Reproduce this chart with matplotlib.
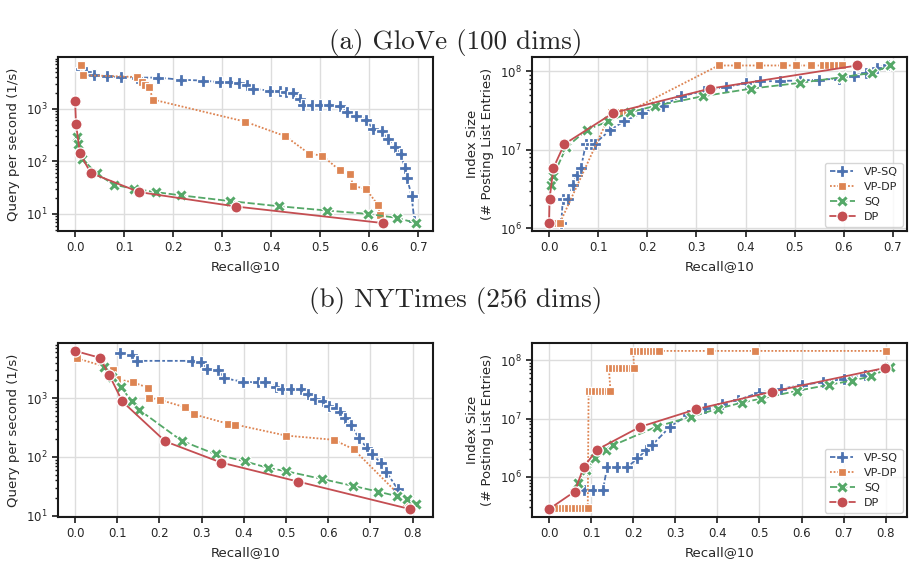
import matplotlib
matplotlib.use("Agg")
import matplotlib.pyplot as plt
import seaborn as sns

# ---- GloVe: throughput ----
glove_qps_vpsq_recall = [0.012, 0.022, 0.038, 0.065, 0.094, 0.126, 0.17, 0.216, 0.26, 0.295, 0.315,
                         0.335, 0.35, 0.363, 0.397, 0.418, 0.43, 0.445, 0.458, 0.465, 0.483, 0.5,
                         0.517, 0.54, 0.554, 0.573, 0.593, 0.608, 0.626, 0.638, 0.653, 0.664,
                         0.673, 0.677, 0.686, 0.692]
glove_qps_vpsq = [5600, 5000, 4300, 4100, 4000, 3900, 3900, 3550, 3430, 3200, 3150,
                  3100, 2800, 2400, 2200, 2150, 2100, 2000, 1560, 1200, 1200, 1200,
                  1200, 1130, 860, 740, 620, 410, 380, 260, 187, 135,
                  74, 48, 22, 7.2]
glove_qps_vpdp_recall = [0.012, 0.016, 0.126, 0.137, 0.143, 0.151, 0.159, 0.346, 0.429, 0.477,
                         0.504, 0.54, 0.56, 0.567, 0.593, 0.617, 0.622]
glove_qps_vpdp = [6800, 4350, 4000, 3200, 2800, 2550, 1490, 570, 300, 140,
                  128, 67, 58, 34, 30, 15, 9.5]
glove_qps_sq_recall = [0.004, 0.006, 0.015, 0.044, 0.079, 0.12, 0.165, 0.215, 0.315, 0.416,
                       0.514, 0.598, 0.657, 0.695]
glove_qps_sq = [290, 210, 110, 59, 36, 30, 26, 22.6, 17.6, 14, 11.6, 10, 8.4, 6.7]
glove_qps_dp_recall = [0.0, 0.002, 0.01, 0.032, 0.131, 0.329, 0.628]
glove_qps_dp = [1430, 510, 141, 60, 26, 13.8, 6.7]

# ---- GloVe: index size ----
glove_idx_vpsq_recall = [0.025, 0.028, 0.039, 0.049, 0.056, 0.065, 0.075, 0.085, 0.093, 0.124,
                         0.152, 0.19, 0.231, 0.269, 0.316, 0.36, 0.4, 0.43, 0.47, 0.51, 0.55,
                         0.59, 0.62, 0.645, 0.668, 0.69]
glove_idx_vpsq = [1.17e6, 2.4e6, 2.4e6, 3.6e6, 4.8e6, 5.9e6, 1.2e7, 1.2e7, 1.2e7, 1.77e7,
                  2.3e7, 2.95e7, 3.65e7, 4.8e7, 5.6e7, 6.3e7, 7.0e7, 7.4e7, 7.5e7, 7.6e7, 7.8e7,
                  8.0e7, 8.8e7, 9.5e7, 1.1e8, 1.2e8]
glove_idx_vpdp_recall = [0.016, 0.022, 0.126, 0.137, 0.143, 0.151, 0.159, 0.345, 0.383, 0.428,
                         0.477, 0.503, 0.534, 0.558, 0.568, 0.578, 0.588, 0.597]
glove_idx_vpdp = [1.17e6, 1.17e6, 3.0e7, 3.0e7, 3.0e7, 3.0e7, 3.0e7, 1.18e8, 1.18e8, 1.18e8,
                  1.18e8, 1.18e8, 1.18e8, 1.18e8, 1.18e8, 1.18e8, 1.18e8, 1.18e8]
glove_idx_sq_recall = [0.003, 0.008, 0.035, 0.077, 0.121, 0.165, 0.215, 0.313, 0.412, 0.511,
                       0.597, 0.658, 0.694]
glove_idx_sq = [3.6e6, 4.6e6, 1.07e7, 1.8e7, 2.3e7, 3.0e7, 3.6e7, 4.8e7, 6.0e7, 7.1e7,
                8.4e7, 9.5e7, 1.18e8]
glove_idx_dp_recall = [0.0, 0.001, 0.009, 0.031, 0.131, 0.328, 0.627]
glove_idx_dp = [1.19e6, 2.36e6, 5.9e6, 1.18e7, 2.95e7, 6.0e7, 1.18e8]

# ---- NYTimes: throughput ----
nyt_qps_vpsq_recall = [0.106, 0.136, 0.146, 0.277, 0.299, 0.313, 0.34, 0.354, 0.398, 0.433,
                       0.45, 0.477, 0.491, 0.512, 0.536, 0.552, 0.568, 0.588, 0.603, 0.618,
                       0.627, 0.639, 0.653, 0.673, 0.691, 0.703, 0.724, 0.738, 0.765, 0.79]
nyt_qps_vpsq = [5800, 5400, 4300, 4300, 4080, 3120, 2960, 2170, 1900, 1850,
                1850, 1560, 1450, 1450, 1450, 1190, 975, 890, 745, 670,
                585, 465, 347, 209, 144, 112, 80, 55, 28, 17]
nyt_qps_vpdp_recall = [0.0055, 0.069, 0.091, 0.1, 0.138, 0.174, 0.176, 0.201, 0.26, 0.281,
                       0.363, 0.379, 0.5, 0.613, 0.66, 0.785]
nyt_qps_vpdp = [4730, 3470, 2950, 2100, 1850, 1490, 1010, 935, 700, 530,
                365, 355, 230, 195, 135, 17]
nyt_qps_sq_recall = [0.068, 0.088, 0.108, 0.135, 0.152, 0.253, 0.334, 0.402, 0.457, 0.5,
                     0.585, 0.659, 0.717, 0.762, 0.787, 0.808]
nyt_qps_sq = [3400, 2300, 1560, 875, 630, 187, 110, 84, 65, 57,
              42, 32, 25.7, 21.5, 19.3, 15.5]
nyt_qps_dp_recall = [0.0, 0.059, 0.081, 0.112, 0.214, 0.346, 0.528, 0.794]
nyt_qps_dp = [6350, 4850, 2480, 875, 183, 80, 38, 12.9]

# ---- NYTimes: index size ----
nyt_idx_vpsq_recall = [0.062, 0.082, 0.104, 0.128, 0.138, 0.162, 0.186, 0.21, 0.23, 0.244,
                       0.288, 0.33, 0.37, 0.41, 0.45, 0.5, 0.55, 0.6, 0.65, 0.7, 0.75, 0.8]
nyt_idx_vpsq = [5.9e5, 5.9e5, 5.9e5, 5.9e5, 1.47e6, 1.47e6, 1.47e6, 2.07e6, 2.85e6, 3.47e6,
                7.3e6, 1.15e7, 1.5e7, 1.8e7, 2.1e7, 2.8e7, 3.2e7, 3.8e7, 4.2e7, 4.8e7, 5.6e7, 7.8e7]
nyt_idx_vpdp_recall = [0.014, 0.022, 0.030, 0.038, 0.046, 0.054, 0.062, 0.070, 0.078, 0.086, 0.092,
                       0.094, 0.102, 0.110, 0.118, 0.126, 0.134, 0.140, 0.146,
                       0.142, 0.150, 0.158, 0.166, 0.174, 0.182, 0.190, 0.196, 0.202,
                       0.200, 0.208, 0.216, 0.224, 0.232, 0.240, 0.248, 0.255, 0.262, 0.382, 0.49, 0.8]
nyt_idx_vpdp = [2.9e5] * 11 + [3.0e7] * 8 + [7.4e7] * 9 + [1.45e8] * 12
nyt_idx_sq_recall = [0.068, 0.088, 0.11, 0.136, 0.152, 0.256, 0.337, 0.402, 0.458, 0.504,
                     0.59, 0.665, 0.721, 0.765, 0.81]
nyt_idx_sq = [8e5, 1.3e6, 2.07e6, 2.85e6, 3.47e6, 7.3e6, 1.07e7, 1.48e7, 1.88e7, 2.2e7,
              3.0e7, 3.8e7, 4.5e7, 5.3e7, 7.6e7]
nyt_idx_dp_recall = [0.0, 0.061, 0.082, 0.113, 0.216, 0.35, 0.53, 0.798]
nyt_idx_dp = [2.8e5, 5.6e5, 1.45e6, 2.9e6, 7.2e6, 1.45e7, 2.9e7, 7.4e7]

sns.set_theme(style="ticks", palette="deep")
plt.rcParams["font.family"] = ["DejaVu Sans"]
plt.rcParams["axes.edgecolor"] = "0.1"
plt.rcParams["axes.linewidth"] = 1.5

pal = sns.color_palette("deep")
# name, color, marker, dashes
styles = [
    ("VP-SQ", pal[0], "P", (3, 1.25, 1.5, 1.25)),
    ("VP-DP", pal[1], (4, 0, 45), (1, 1)),
    ("SQ", pal[2], "X", (4, 1.5)),
    ("DP", pal[3], "o", None),
]


def draw(ax, data, ylabel, legend=False):
    for (name, c, m, d), (xs, ys) in zip(styles, data):
        ln, = ax.plot(xs, ys, color=c, marker=m, ms=8, mec="white", mew=0.9,
                      lw=1.3, label=name)
        if d is not None:
            ln.set_dashes(d)
    ax.set_yscale("log")
    ax.grid(True, which="major", color="#dddddd", lw=1)
    ax.set_axisbelow(True)
    ax.tick_params(which="major", length=4, width=1.2, labelsize=8.5, color="0.1")
    ax.tick_params(which="minor", length=2.5, width=1.0, color="0.1")
    ax.set_xlabel("Recall@10", fontsize=9.5)
    ax.set_ylabel(ylabel, fontsize=9.5)
    if legend:
        ax.legend(loc="lower right", fontsize=8, handlelength=2.3, frameon=True,
                  borderaxespad=0.4, labelspacing=0.45)


fig = plt.figure(figsize=(9.11, 5.61), dpi=100)
W, H = 911, 561


def box(l, t, r, b):
    return [l / W, 1 - b / H, (r - l) / W, (b - t) / H]


ax1 = fig.add_axes(box(58, 57, 433, 231))
ax2 = fig.add_axes(box(532, 57, 907, 231))
ax3 = fig.add_axes(box(58, 343, 433, 517))
ax4 = fig.add_axes(box(532, 343, 907, 517))

draw(ax1, [(glove_qps_vpsq_recall, glove_qps_vpsq), (glove_qps_vpdp_recall, glove_qps_vpdp),
           (glove_qps_sq_recall, glove_qps_sq), (glove_qps_dp_recall, glove_qps_dp)],
     "Query per second (1/s)")
draw(ax2, [(glove_idx_vpsq_recall, glove_idx_vpsq), (glove_idx_vpdp_recall, glove_idx_vpdp),
           (glove_idx_sq_recall, glove_idx_sq), (glove_idx_dp_recall, glove_idx_dp)],
     "Index Size\n(# Posting List Entries)", legend=True)
draw(ax3, [(nyt_qps_vpsq_recall, nyt_qps_vpsq), (nyt_qps_vpdp_recall, nyt_qps_vpdp),
           (nyt_qps_sq_recall, nyt_qps_sq), (nyt_qps_dp_recall, nyt_qps_dp)],
     "Query per second (1/s)")
draw(ax4, [(nyt_idx_vpsq_recall, nyt_idx_vpsq), (nyt_idx_vpdp_recall, nyt_idx_vpdp),
           (nyt_idx_sq_recall, nyt_idx_sq), (nyt_idx_dp_recall, nyt_idx_dp)],
     "Index Size\n(# Posting List Entries)", legend=True)

ax1.set_xticks([0.0, 0.1, 0.2, 0.3, 0.4, 0.5, 0.6, 0.7])
ax2.set_xticks([0.0, 0.1, 0.2, 0.3, 0.4, 0.5, 0.6, 0.7])
ax3.set_xticks([0.0, 0.1, 0.2, 0.3, 0.4, 0.5, 0.6, 0.7, 0.8])
ax4.set_xticks([0.0, 0.1, 0.2, 0.3, 0.4, 0.5, 0.6, 0.7, 0.8])

fig.text(0.5, 1 - 42 / H, "(a) GloVe (100 dims)", ha="center", va="center",
         family="cmr10", fontsize=19.5)
fig.text(0.5, 1 - 300 / H, "(b) NYTimes (256 dims)", ha="center", va="center",
         family="cmr10", fontsize=19.5)

fig.savefig("out.png", dpi=100)
